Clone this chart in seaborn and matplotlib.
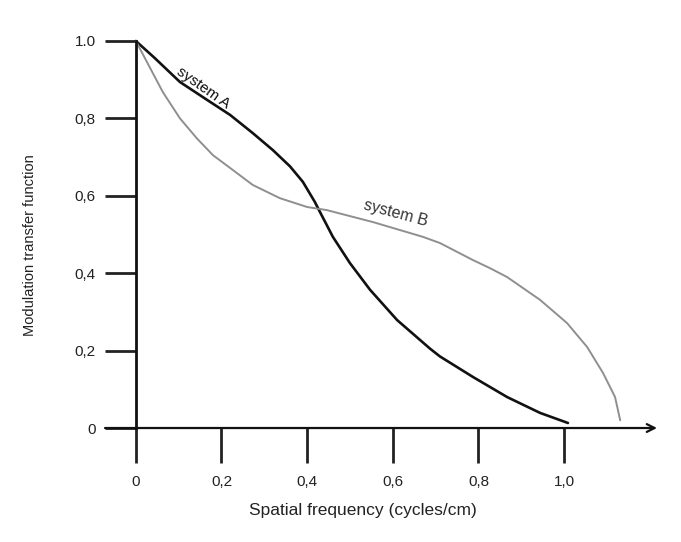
import numpy as np
import pandas as pd
import seaborn as sns
import matplotlib.pyplot as plt

sns.set_style("white")
plt.rcParams["font.family"] = ["Liberation Sans", "DejaVu Sans"]

# values
freq_a = [0, 0.044, 0.103, 0.166, 0.22, 0.273, 0.32, 0.36, 0.39, 0.418,
          0.43, 0.446, 0.46, 0.5, 0.547, 0.61, 0.687, 0.71, 0.787, 0.867,
          0.944, 1.009]
mtf_a = [1.0, 0.956, 0.894, 0.848, 0.809, 0.762, 0.718, 0.676, 0.636, 0.584,
         0.558, 0.524, 0.494, 0.426, 0.357, 0.279, 0.205, 0.185, 0.132, 0.08,
         0.039, 0.013]

freq_b = [0, 0.021, 0.063, 0.103, 0.142, 0.18, 0.22, 0.273, 0.336, 0.40,
          0.446, 0.554, 0.67, 0.71, 0.787, 0.827, 0.867, 0.944, 1.007, 1.054,
          1.091, 1.119, 1.131]
mtf_b = [1.0, 0.956, 0.868, 0.80, 0.749, 0.705, 0.672, 0.628, 0.594, 0.571,
         0.563, 0.532, 0.494, 0.478, 0.434, 0.413, 0.39, 0.331, 0.271, 0.209,
         0.142, 0.08, 0.02]

x_ticks = [0, 0.2, 0.4, 0.6, 0.8, 1.0]
x_labels = ["0", "0,2", "0,4", "0,6", "0,8", "1,0"]
y_ticks = [0, 0.2, 0.4, 0.6, 0.8, 1.0]
y_labels = ["0", "0,2", "0,4", "0,6", "0,8", "1.0"]

df = pd.concat([
    pd.DataFrame({"freq": freq_a, "mtf": mtf_a, "system": "A"}),
    pd.DataFrame({"freq": freq_b, "mtf": mtf_b, "system": "B"}),
])

fig = plt.figure(figsize=(6.81, 5.42), dpi=100)
ax = fig.add_axes([0.1542, 0.2103, 0.8106, 0.7141])

sns.lineplot(data=df, x="freq", y="mtf", hue="system", sort=False,
             palette={"A": "#111111", "B": "#8f8f8f"}, legend=False, ax=ax)
for line, lw in zip(ax.get_lines(), [1.9, 1.4]):
    line.set_linewidth(lw)
    line.set_clip_on(False)
    line.set_solid_joinstyle("round")

ax.set_xlim(-0.072, 1.217)
ax.set_ylim(0, 1.0)

for s in ["top", "right", "bottom"]:
    ax.spines[s].set_visible(False)
ax.spines["left"].set_position(("data", 0))
ax.spines["left"].set_color("#111111")
ax.spines["left"].set_linewidth(2.0)

# x axis with arrow head
ax.annotate("", xy=(1.217, 0), xytext=(-0.072, 0),
            arrowprops=dict(arrowstyle="->", color="#111111", lw=1.6,
                            mutation_scale=14, shrinkA=0, shrinkB=0),
            annotation_clip=False)

ax.set_xticks(x_ticks)
ax.set_xticklabels(x_labels)
ax.set_yticks(y_ticks)
ax.set_yticklabels(y_labels)
ax.tick_params(axis="x", direction="out", length=25, width=2, color="#222222",
               pad=9, labelsize=11, labelcolor="#222222", bottom=True)
ax.tick_params(axis="y", direction="out", length=22, width=2, color="#222222",
               pad=7, labelsize=11, labelcolor="#222222", left=True)

ax.set_xlabel("Spatial frequency (cycles/cm)", fontsize=12.5, color="#222222")
ax.xaxis.set_label_coords(0.467, -0.194)
ax.set_ylabel("Modulation transfer function", fontsize=10.5, color="#222222")
ax.yaxis.set_label_coords(-0.123, 0.473)

ax.text(0.158, 0.88, "system A", rotation=-35, fontsize=11,
        ha="center", va="center", color="#111111")
ax.text(0.607, 0.556, "system B", rotation=-15, fontsize=11.5,
        ha="center", va="center", color="#333333")

plt.savefig("out.png", dpi=100)
